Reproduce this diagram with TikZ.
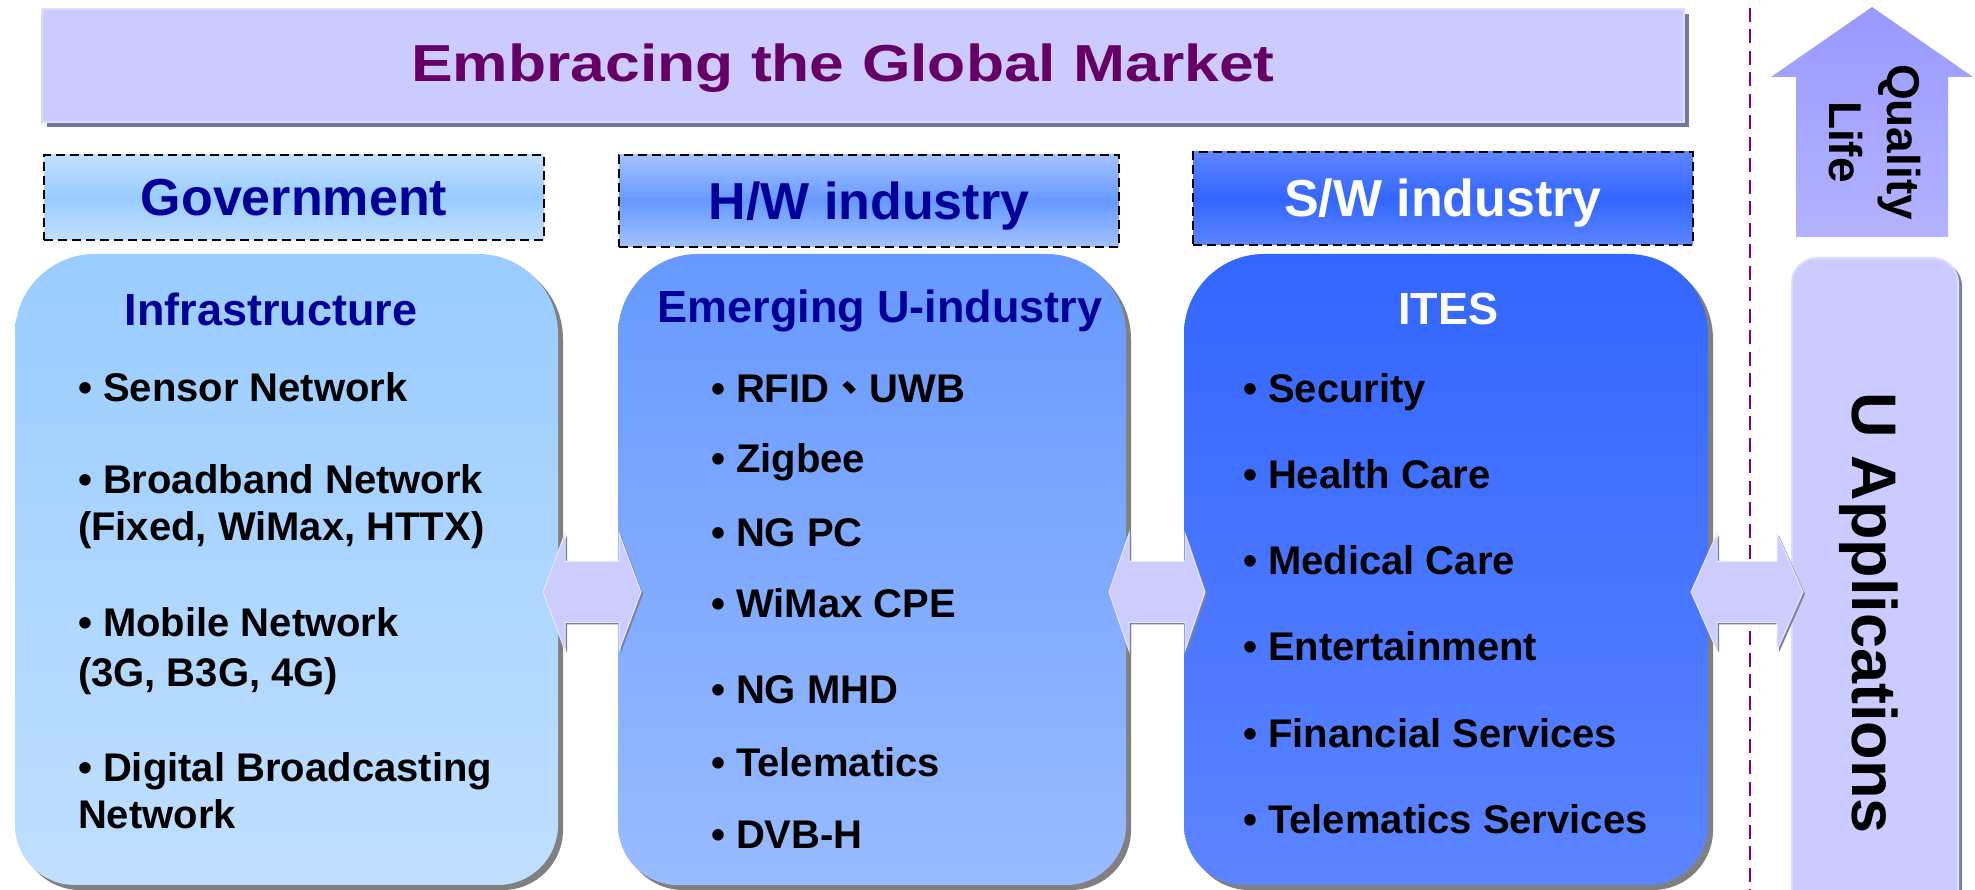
\documentclass[tikz,border=0pt]{standalone}
\usepackage{fontspec}
\setmainfont{Liberation Sans}
\newfontfamily\titlefont{Liberation Sans}[FakeStretch=1.2]
\newfontfamily\cjkfont{Noto Sans CJK TC}
\usetikzlibrary{calc}
\newcommand\fsz[2]{\fontsize{#1}{#2}\selectfont}
\definecolor{bannerc}{HTML}{CBCBFF}
\definecolor{bannersh}{HTML}{77779A}
\definecolor{bannerhi}{HTML}{DCDCFF}
\definecolor{titlec}{HTML}{660066}
\definecolor{navy}{HTML}{000099}
\definecolor{govlt}{HTML}{C2E0FF}
\definecolor{govmd}{HTML}{99CCFF}
\definecolor{hwlt}{HTML}{A3C2FF}
\definecolor{hwmd}{HTML}{6699FF}
\definecolor{swlt}{HTML}{5C85FF}
\definecolor{swmd}{HTML}{3366FF}
\definecolor{bonebot}{HTML}{C0DFFF}
\definecolor{btwobot}{HTML}{99BBFF}
\definecolor{bthrbot}{HTML}{5C84FF}
\definecolor{boxsh}{HTML}{808080}
\definecolor{arrowc}{HTML}{CCCCFF}
\definecolor{arrowsh}{HTML}{80809A}
\definecolor{arrowhi}{HTML}{E8E8FF}
\definecolor{qtop}{HTML}{9999FF}
\definecolor{qbot}{HTML}{B3B3FF}
\definecolor{dashc}{HTML}{800080}
\tikzset{
  bigpath/.style={insert path={
    ([xshift=60pt]#1.south west) -- ([xshift=-60pt]#1.south east)
    arc[start angle=-90,end angle=0,radius=60pt]
    -- ([yshift=-80pt]#1.north east)
    arc[start angle=0,end angle=90,radius=80pt]
    -- ([xshift=80pt]#1.north west)
    arc[start angle=90,end angle=180,radius=80pt]
    -- ([yshift=60pt]#1.south west)
    arc[start angle=180,end angle=270,radius=60pt] -- cycle}},
  upath/.style={insert path={
    (#1.south west) -- ([yshift=-25pt]#1.north west)
    arc[start angle=180,end angle=90,radius=25pt]
    -- ([xshift=-25pt]#1.north east)
    arc[start angle=90,end angle=0,radius=25pt]
    -- (#1.south east) -- cycle}},
  pics/dblarrow/.style 2 args={code={
    \fill[arrowsh] (-#1+2,-2) -- (-#1+#2+2,56.5) -- (-#1+#2+2,28.5) -- (#1-#2+2,28.5)
      -- (#1-#2+2,56.5) -- (#1+2,-2) -- (#1-#2+2,-60.5) -- (#1-#2+2,-32.5)
      -- (-#1+#2+2,-32.5) -- (-#1+#2+2,-60.5) -- cycle;
    \fill[arrowc, draw=arrowhi, line width=1pt] (-#1,0) -- (-#1+#2,58.5) -- (-#1+#2,30.5) -- (#1-#2,30.5)
      -- (#1-#2,58.5) -- (#1,0) -- (#1-#2,-58.5) -- (#1-#2,-30.5)
      -- (-#1+#2,-30.5) -- (-#1+#2,-58.5) -- cycle;
  }}
}
\begin{document}
\begin{tikzpicture}[x=1pt,y=1pt,
  every node/.style={inner sep=0pt, outer sep=0pt},
  hdr/.style={draw=black, line width=2pt, dash pattern=on 9pt off 5pt,
    minimum width=500pt, text height=37pt, text depth=0pt,
    font=\fsz{52}{62}\bfseries, shading=axis},
  boxtitle/.style={anchor=base, font=\fsz{45}{54}\bfseries},
  item/.style={anchor=base west, font=\fsz{40}{48}\bfseries},
  area/.style={minimum height=631pt}
]
\useasboundingbox (0,0) rectangle (1975,890);

% vertical dashed divider
\draw[dashc, line width=2.5pt, dash pattern=on 14pt off 7.5pt] (1750,882) -- (1750,0);

% banner
\fill[bannersh] (47,763) rectangle (1689,876);
\node[fill=bannerc, draw=bannerhi, line width=2pt, minimum width=1642pt, minimum height=113pt] (banner) at (863,824.5) {};
\node[font=\titlefont\fsz{52}{62}\bfseries, text=titlec, anchor=base] (title) at ($(banner.center)+(-20,-16.5)$) {Embracing the Global Market};

% header boxes
\node[hdr, top color=govlt, bottom color=govlt, middle color=govmd, minimum height=85pt, text=navy] (gov) at (294,692.5) {Government};
\node[hdr, top color=hwlt, bottom color=hwlt, middle color=hwmd, minimum height=92pt, text=navy] (hw) at (869,689) {H/W industry};
\node[hdr, top color=swlt, bottom color=swlt, middle color=swmd, minimum height=93pt, text=white] (sw) at (1443,691.5) {S/W industry};

% big boxes (areas)
\node[area, minimum width=543pt] (b1) at (286.5,320.5) {};
\node[area, minimum width=508pt] (b2) at (872,320.5) {};
\node[area, minimum width=524pt] (b3) at (1446,320.5) {};
\node[minimum width=166pt, minimum height=642pt] (uapp) at (1875,311) {};

\begin{scope}[transform canvas={shift={(5pt,-5pt)}}]
  \fill[boxsh] [bigpath=b1];
  \fill[boxsh] [bigpath=b2];
  \fill[boxsh] [bigpath=b3];
\end{scope}
\begin{scope}[transform canvas={shift={(4pt,-3pt)}}]
  \fill[arrowsh] [upath=uapp];
\end{scope}
\shade[top color=govmd, bottom color=bonebot] [bigpath=b1];
\shade[top color=hwmd, bottom color=btwobot] [bigpath=b2];
\shade[top color=swmd, bottom color=bthrbot] [bigpath=b3];
\fill[bannerc, draw=bannerhi, line width=2pt] [upath=uapp];

% quality life arrow
\shade[top color=qtop, bottom color=qbot] (1872,883) -- (1973,813) -- (1948,813) -- (1948,653)
  -- (1796,653) -- (1796,813) -- (1771,813) -- cycle;
\node[rotate=-90, align=center, font=\fsz{46}{58}\bfseries] (ql) at (1875,748) {Quality\\Life};

% U applications
\node[rotate=-90, font=\fsz{63}{75}\bfseries] (ut) at (1869,276.5) {U Applications};

% double arrows between areas
\pic at ($(b1.east)!0.5!(b2.west)+(4,-22.5)$) {dblarrow={49}{22}};
\pic at ($(b2.east)!0.5!(b3.west)+(2,-22.5)$) {dblarrow={48}{20}};
\pic at ($(b3.east)!0.5!(uapp.west)+(-3,-17.75)$) {dblarrow={56}{26}};

% box 1
\node[boxtitle, text=navy] (t1) at (271,564) {Infrastructure};
\node[item] (i11) at (78,488) {• Sensor Network};
\node[item] (i12) at (78,396) {• Broadband Network};
\node[item] (i12b) at (78,349) {(Fixed, WiMax, HTTX)};
\node[item] (i13) at (78,253) {• Mobile Network};
\node[item] (i13b) at (78,203) {(3G, B3G, 4G)};
\node[item] (i14) at (78,108) {• Digital Broadcasting};
\node[item] (i14b) at (78,61) {Network};

% box 2
\node[boxtitle, text=navy] (t2) at (880,567) {Emerging U-industry};
\node[item] (i21) at (711,487) {• RFID{\cjkfont 、}UWB};
\node[item] (i22) at (711,417) {• Zigbee};
\node[item] (i23) at (711,343) {• NG PC};
\node[item] (i24) at (711,272) {• WiMax CPE};
\node[item] (i25) at (711,186) {• NG MHD};
\node[item] (i26) at (711,113) {• Telematics};
\node[item] (i27) at (711,41) {• DVB-H};

% box 3
\node[boxtitle, text=white] (t3) at (1448,565) {ITES};
\node[item] (i31) at (1243,487) {• Security};
\node[item] (i32) at (1243,401) {• Health Care};
\node[item] (i33) at (1243,315) {• Medical Care};
\node[item] (i34) at (1243,229) {• Entertainment};
\node[item] (i35) at (1243,142) {• Financial Services};
\node[item] (i36) at (1243,56) {• Telematics Services};
\end{tikzpicture}
\end{document}
